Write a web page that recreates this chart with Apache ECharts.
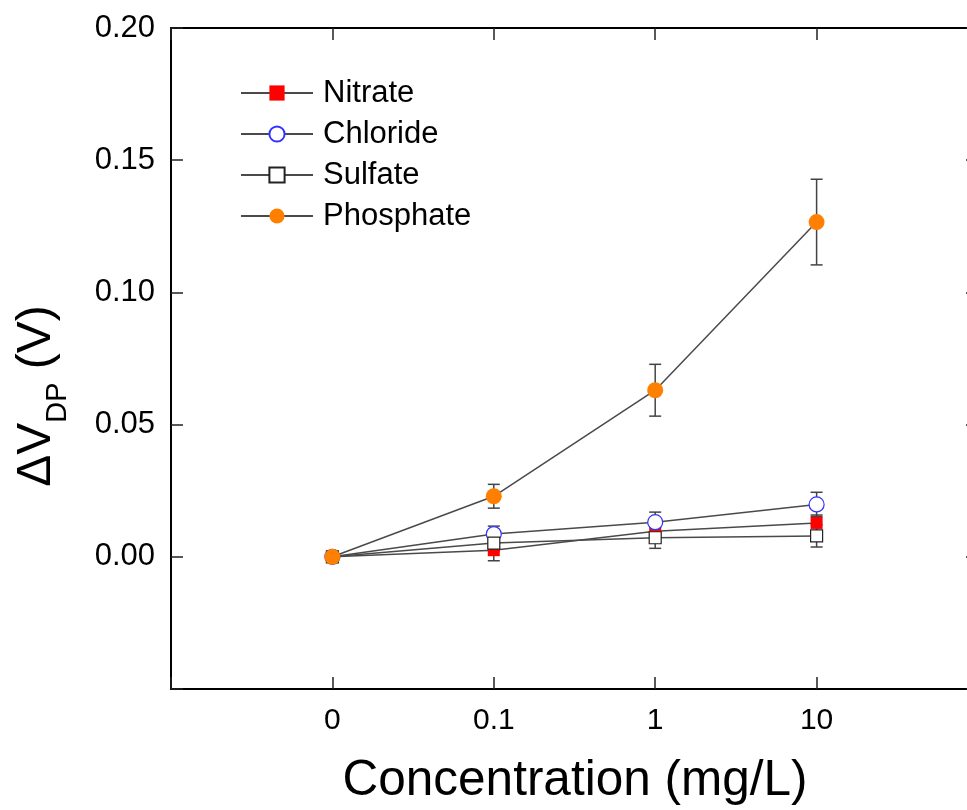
<!DOCTYPE html>
<html>
<head>
<meta charset="utf-8">
<script src="https://cdn.jsdelivr.net/npm/echarts@6/dist/echarts.min.js"></script>
<style>html,body{margin:0;padding:0;background:#fff;}#chart{width:967px;height:810px;}</style>
</head>
<body>
<div id="chart"></div>
<script>
// ---- data ----
const categories = ['0', '0.1', '1', '10'];
const yTickLabels = ['0.00', '0.05', '0.10', '0.15', '0.20'];
const seriesNames = ['Nitrate', 'Chloride', 'Sulfate', 'Phosphate'];
const nitrate = [0, 0.0025, 0.0097, 0.0128];
const nitrateErr = [0, 0.004, 0.003, 0.003];
const chloride = [0, 0.0086, 0.0131, 0.0198];
const chlorideErr = [0, 0.003, 0.0038, 0.0046];
const sulfate = [0, 0.0052, 0.0072, 0.0079];
const sulfateErr = [0, 0.003, 0.004, 0.0042];
const phosphate = [0, 0.0229, 0.063, 0.1266];
const phosphateErr = [0, 0.0045, 0.0098, 0.0162];

const FONT = "'Liberation Sans', Arial, Helvetica, sans-serif";
const chart = echarts.init(document.getElementById('chart'));

function pts(vals) { return categories.map((c, i) => [i, vals[i]]); }
function errPts(vals, errs) { return categories.map((c, i) => [i, vals[i] - errs[i], vals[i] + errs[i]]); }

const styles = [
  { symbol: 'rect', size: 12, color: '#ff0000', border: '#ff0000', bw: 0 },
  { symbol: 'circle', size: 15, color: '#ffffff', border: '#3333ff', bw: 1.2 },
  { symbol: 'rect', size: 12, color: '#ffffff', border: '#222222', bw: 1.2 },
  { symbol: 'circle', size: 16, color: '#ff8000', border: '#ff8000', bw: 0 }
];
const values = [nitrate, chloride, sulfate, phosphate];
const errors = [nitrateErr, chlorideErr, sulfateErr, phosphateErr];

const series = [];
values.forEach((v, k) => {
  series.push({
    type: 'custom',
    name: seriesNames[k] + ' err',
    z: 1,
    silent: true,
    data: errPts(v, errors[k]),
    renderItem: function (params, api) {
      if (api.value(2) - api.value(1) === 0) return null;
      const lo = api.coord([api.value(0), api.value(1)]);
      const hi = api.coord([api.value(0), api.value(2)]);
      const cw = 6;
      const st = { stroke: '#444444', lineWidth: 1.5 };
      return {
        type: 'group',
        children: [
          { type: 'line', shape: { x1: lo[0], y1: lo[1], x2: hi[0], y2: hi[1] }, style: st },
          { type: 'line', shape: { x1: lo[0] - cw, y1: lo[1], x2: lo[0] + cw, y2: lo[1] }, style: st },
          { type: 'line', shape: { x1: hi[0] - cw, y1: hi[1], x2: hi[0] + cw, y2: hi[1] }, style: st }
        ]
      };
    }
  });
});
values.forEach((v, k) => {
  const s = styles[k];
  series.push({
    type: 'line',
    name: seriesNames[k],
    z: 2 + k,
    data: pts(v),
    symbol: s.symbol,
    symbolSize: s.size,
    showAllSymbol: true,
    lineStyle: { color: '#4a4a4a', width: 1.5 },
    itemStyle: { color: s.color, borderColor: s.border, borderWidth: s.bw, opacity: 1 },
    emphasis: { disabled: true },
    animation: false
  });
});

const axisLineStyle = { color: '#000', width: 2 };
const tickStyle = { inside: true, length: 12, lineStyle: { color: '#222', width: 1.5 } };

const option = {
  backgroundColor: '#ffffff',
  animation: false,
  grid: { left: 171, top: 28, width: 807, height: 661, containLabel: false, outerBoundsMode: 'none' },
  legend: {
    data: seriesNames,
    orient: 'vertical',
    left: 235,
    top: 72,
    itemWidth: 72,
    itemHeight: 19,
    itemGap: 9,
    textStyle: { fontFamily: FONT, fontSize: 31, color: '#000', padding: [0, 0, 0, 5], lineHeight: 32 },
    selectedMode: false
  },
  xAxis: [
    {
      type: 'value', min: -1, max: 4, interval: 1, position: 'bottom',
      axisLine: { onZero: false, lineStyle: axisLineStyle },
      axisTick: tickStyle,
      axisLabel: {
        margin: 17, fontFamily: FONT, fontSize: 30, color: '#000',
        formatter: function (v) { return categories[v] !== undefined ? categories[v] : ''; }
      },
      splitLine: { show: false }
    },
    {
      type: 'value', min: -1, max: 4, interval: 1, position: 'top',
      axisLine: { onZero: false, lineStyle: axisLineStyle },
      axisTick: tickStyle,
      axisLabel: { show: false },
      splitLine: { show: false }
    }
  ],
  yAxis: [
    {
      type: 'value', min: -0.05, max: 0.2, interval: 0.05, position: 'left',
      axisLine: { show: true, onZero: false, lineStyle: axisLineStyle },
      axisTick: Object.assign({ show: true }, tickStyle),
      axisLabel: {
        margin: 16, fontFamily: FONT, fontSize: 31, color: '#000',
        formatter: function (v) {
          const i = Math.round(v / 0.05);
          return i >= 0 && i < yTickLabels.length ? yTickLabels[i] : '';
        }
      },
      splitLine: { show: false }
    },
    {
      type: 'value', min: -0.05, max: 0.2, interval: 0.05, position: 'right',
      axisLine: { show: true, onZero: false, lineStyle: axisLineStyle },
      axisTick: Object.assign({ show: true }, tickStyle),
      axisLabel: { show: false },
      splitLine: { show: false }
    }
  ],
  graphic: [
    {
      type: 'text', x: 575, y: 781,
      style: {
        text: 'Concentration (mg/L)', fontFamily: FONT, fontSize: 49.5, fill: '#000',
        align: 'center', verticalAlign: 'middle'
      }
    },
    {
      type: 'text', x: 37, y: 396, rotation: Math.PI / 2,
      style: {
        text: '{a|ΔV}{b|DP}{a| (V)}',
        align: 'center', verticalAlign: 'middle',
        rich: {
          a: { fontFamily: FONT, fontSize: 48, fill: '#000', lineHeight: 48, verticalAlign: 'top' },
          b: { fontFamily: FONT, fontSize: 29, fill: '#000', lineHeight: 29, verticalAlign: 'top', padding: [30, 0, 0, 0] }
        }
      }
    }
  ],
  series: series
};
chart.setOption(option);
</script>
</body>
</html>
